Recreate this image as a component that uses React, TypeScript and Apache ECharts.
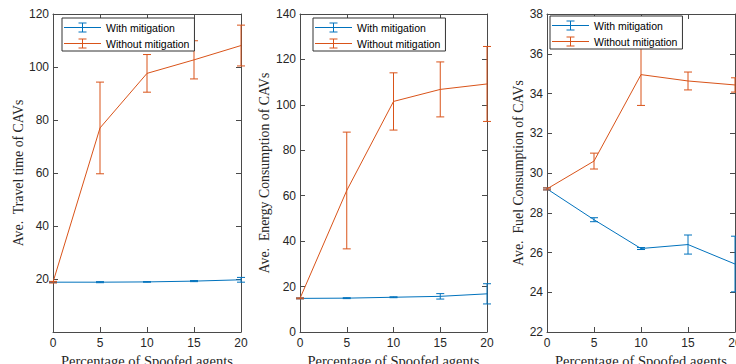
import React, { useEffect, useRef } from 'react';
import * as echarts from 'echarts';

// x values (percentage of spoofed agents)
const pct = [0, 5, 10, 15, 20];

// Panel 1: average travel time
const travelWith = [18.8, 18.8, 18.9, 19.2, 19.7];
const travelWithErr = [0.15, 0.2, 0.1, 0.2, 0.9];
const travelWithout = [18.8, 77.0, 97.6, 102.7, 108.1];
const travelWithoutErr = [0.3, 17.3, 7.1, 7.2, 7.7];

// Panel 2: average energy consumption
const energyWith = [14.8, 14.9, 15.3, 15.7, 16.8];
const energyWithErr = [0.2, 0.2, 0.2, 1.2, 4.45];
const energyWithout = [14.8, 62.3, 101.5, 106.8, 109.2];
const energyWithoutErr = [0.2, 25.7, 12.6, 12.1, 16.5];

// Panel 3: average fuel consumption
const fuelWith = [29.2, 27.65, 26.2, 26.4, 25.42];
const fuelWithErr = [0.05, 0.1, 0.05, 0.48, 1.4];
const fuelWithout = [29.2, 30.6, 34.95, 34.63, 34.43];
const fuelWithoutErr = [0.05, 0.4, 1.55, 0.45, 0.36];

const legendNames = ['With mitigation', 'Without mitigation'];
const xName = 'Percentage of Spoofed agents';
const yNames = ['Ave.  Travel time of CAVs', 'Ave.  Energy Consumption of CAVs', 'Ave.  Fuel Consumption of CAVs'];

const BLUE = '#0072BD';
const RED = '#D95319';
const AX = '#4a4a4a';
const TXT = '#262626';

const ICON = 'path://M0,4.5H37V5.5H0Z M18,0H19V10H18Z M14.5,0H22.5V1H14.5Z M14.5,9H22.5V10H14.5Z';

export default function App() {
  const ref = useRef<HTMLDivElement>(null);
  useEffect(() => {
    const chart = echarts.init(ref.current!, null, { renderer: 'svg' });

    const panels = [
      { yName: yNames[0], min: 0, max: 120, interval: 20, hideMin: true, nameGap: 28,
        w: travelWith, we: travelWithErr, wo: travelWithout, woe: travelWithoutErr,
        grid: { left: 53, top: 14, width: 188, height: 318 }, legend: { left: 62, top: 18 } },
      { yName: yNames[1], min: 0, max: 140, interval: 20, hideMin: false, nameGap: 29,
        w: energyWith, we: energyWithErr, wo: energyWithout, woe: energyWithoutErr,
        grid: { left: 300, top: 14, width: 187, height: 318 }, legend: { left: 313, top: 18 } },
      { yName: yNames[2], min: 22, max: 38, interval: 2, hideMin: false, nameGap: 22,
        w: fuelWith, we: fuelWithErr, wo: fuelWithout, woe: fuelWithoutErr,
        grid: { left: 547, top: 14, width: 188, height: 318 }, legend: { left: 550, top: 16 } },
    ];

    const lbl = { color: TXT, fontSize: 12, fontFamily: 'Liberation Sans' };

    const xAxis: any[] = [];
    const yAxis: any[] = [];
    const series: any[] = [];
    const legend: any[] = [];

    panels.forEach((p, i) => {
      xAxis.push({
        gridIndex: i, type: 'value', min: 0, max: 20, interval: 5, position: 'bottom',
        axisLine: { onZero: false, lineStyle: { color: AX, width: 1 } },
        axisTick: { inside: true, length: 5, lineStyle: { color: AX } },
        axisLabel: { ...lbl, margin: 5 },
        splitLine: { show: false },
        name: xName, nameLocation: 'middle', nameGap: 18,
        nameTextStyle: { fontFamily: 'Liberation Serif', fontSize: 14.5, color: TXT, verticalAlign: 'top' },
      });
      yAxis.push({
        gridIndex: i, type: 'value', min: p.min, max: p.max, interval: p.interval, position: 'left',
        axisLine: { show: true, onZero: false, lineStyle: { color: AX, width: 1 } },
        axisTick: { show: true, inside: true, length: 5, lineStyle: { color: AX } },
        axisLabel: { ...lbl, margin: 4, showMinLabel: !p.hideMin },
        splitLine: { show: false },
        name: p.yName, nameLocation: 'middle', nameGap: p.nameGap,
        nameTextStyle: { fontFamily: 'Liberation Serif', fontSize: 13.8, color: TXT },
      });
    });
    panels.forEach((p, i) => {
      xAxis.push({
        gridIndex: i, type: 'value', min: 0, max: 20, interval: 5, position: 'top',
        axisLine: { onZero: false, lineStyle: { color: AX, width: 1 } },
        axisTick: { inside: true, length: 5, lineStyle: { color: AX } },
        axisLabel: { show: false }, splitLine: { show: false },
      });
      yAxis.push({
        gridIndex: i, type: 'value', min: p.min, max: p.max, interval: p.interval, position: 'right',
        axisLine: { show: true, onZero: false, lineStyle: { color: AX, width: 1 } },
        axisTick: { show: true, inside: true, length: 5, lineStyle: { color: AX } },
        axisLabel: { show: false }, splitLine: { show: false },
      });
    });

    const errRender = (color: string) => (params: any, api: any) => {
      const x = api.value(0);
      const lo = api.coord([x, api.value(1)]);
      const hi = api.coord([x, api.value(2)]);
      const cx = lo[0];
      const hw = 4;
      const st = { stroke: color, lineWidth: 1 };
      return {
        type: 'group',
        children: [
          { type: 'line', shape: { x1: cx, y1: lo[1], x2: cx, y2: hi[1] }, style: st },
          { type: 'line', shape: { x1: cx - hw, y1: lo[1], x2: cx + hw, y2: lo[1] }, style: st },
          { type: 'line', shape: { x1: cx - hw, y1: hi[1], x2: cx + hw, y2: hi[1] }, style: st },
        ],
      };
    };

    panels.forEach((p, i) => {
      const groups = [
        { name: legendNames[0], m: p.w, e: p.we, color: BLUE },
        { name: legendNames[1], m: p.wo, e: p.woe, color: RED },
      ];
      groups.forEach((g, k) => {
        series.push({
          type: 'line', name: g.name, xAxisIndex: i, yAxisIndex: i,
          data: pct.map((x, j) => [x, g.m[j]]),
          symbol: 'none', showSymbol: false,
          lineStyle: { color: g.color, width: 1 }, itemStyle: { color: g.color },
          z: 2 + k,
        });
        series.push({
          type: 'custom', name: g.name + ' err', xAxisIndex: i, yAxisIndex: i,
          data: pct.map((x, j) => [x, g.m[j] - g.e[j], g.m[j] + g.e[j]]),
          renderItem: errRender(g.color), clip: false,
          itemStyle: { color: g.color }, z: 2 + k,
        });
      });
      legend.push({
        left: p.legend.left, top: p.legend.top, orient: 'vertical',
        data: legendNames.map((n) => ({ name: n, icon: ICON })),
        itemWidth: 37, itemHeight: 10, itemGap: 3,
        padding: [3, 5, 1, 2],
        backgroundColor: '#fff', borderColor: '#333', borderWidth: 1,
        itemStyle: { borderWidth: 0 },
        textStyle: { fontFamily: 'Liberation Sans', fontSize: 10.5, color: '#000', lineHeight: 13 },
        selectedMode: false, z: 10,
      });
    });

    chart.setOption({
      animation: false,
      backgroundColor: '#fff',
      grid: panels.map((p) => ({ ...p.grid, containLabel: false, outerBoundsMode: 'none' })),
      xAxis, yAxis, series, legend,
    });
    return () => chart.dispose();
  }, []);
  return <div ref={ref} style={{ position: 'fixed', left: 0, top: 0, width: 736, height: 364, background: '#fff' }} />;
}
